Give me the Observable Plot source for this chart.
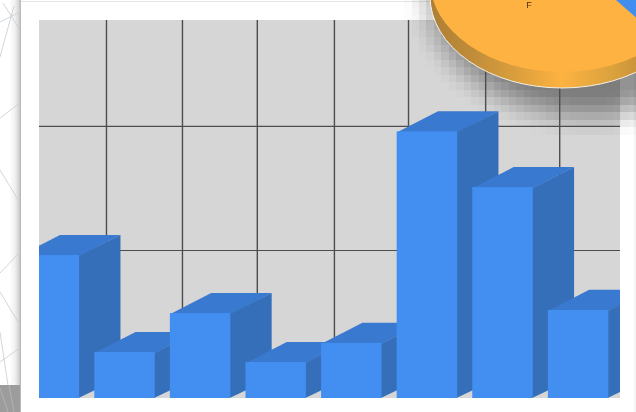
<!DOCTYPE html>
<html>
<head>
<meta charset="utf-8">
<script src="https://cdn.jsdelivr.net/npm/d3@7"></script>
<script src="https://cdn.jsdelivr.net/npm/@observablehq/plot@0.6"></script>
<style>
html,body{margin:0;padding:0;background:#fff;overflow:hidden}
#stage{position:relative;width:636px;height:412px;overflow:hidden;filter:blur(.35px);font-family:"Liberation Sans",Arial,sans-serif}
#stage>*{position:absolute;left:0;top:0}
#strip{width:21px;height:412px;background:linear-gradient(to right,#fff 0,#fff 45%,#f1f1f1 70%,#d8d8d8 88%,#b9b9b9 97%,#c4c4c4 100%)}
#card{left:21px!important;top:2px!important;width:615px;height:410px;background:#fff;box-shadow:0 -1px 0 #e6e6e6}
#edge{left:634px!important;top:0;width:2px;height:412px;background:#f4f4f4}
#wall{left:39px!important;top:20px!important;width:581px;height:378px;background:#d6d6d6}
canvas{width:636px;height:412px;image-rendering:pixelated}
</style>
</head>
<body>
<div id="stage">
  <div id="strip"></div>
  <svg id="lines" width="636" height="412">
    <g stroke="#c9cfd2" stroke-width="1" fill="none" opacity=".85">
      <path d="M0 22L20 12M3 3L20 30M0 57L14 6M0 118L20 103M0 170L20 203M0 273L20 252M0 292L20 325M0 362L20 348M0 332L8 385"/>
    </g>
    <rect x="0" y="385" width="20" height="27" fill="#9c9c9c"/>
    <path d="M0 388L8 412M9 385L14 412" stroke="#b2b2b2" fill="none"/>
  </svg>
  <div id="card"></div>
  <div id="edge"></div>
  <div id="wall"></div>
  <canvas id="shadow" width="85" height="55"></canvas>
  <div id="chart"></div>
  <svg id="pie" width="636" height="412">
    <defs>
      <linearGradient id="rim" gradientUnits="userSpaceOnUse" x1="429" x2="695" y1="0" y2="0">
        <stop offset="0" stop-color="#ad7e33"/>
        <stop offset=".14" stop-color="#bd8a3a"/>
        <stop offset=".32" stop-color="#d99e3c"/>
        <stop offset=".5" stop-color="#fdb241"/>
        <stop offset=".68" stop-color="#dca33e"/>
        <stop offset=".82" stop-color="#c58e39"/>
        <stop offset="1" stop-color="#ad7e33"/>
      </linearGradient>
      <clipPath id="top"><ellipse cx="562" cy="-20" rx="133" ry="92"/></clipPath>
    </defs>
    <ellipse cx="562" cy="-4" rx="132" ry="92" fill="url(#rim)" stroke="#f4efe6" stroke-width="1"/>
    <rect x="430" y="-20" width="264" height="16" fill="url(#rim)"/>
    <ellipse cx="562" cy="-20" rx="132" ry="92" fill="#fdb241"/>
    <path d="M616 0L640 21L640 0Z" fill="#418df0" clip-path="url(#top)"/>
    <text x="529" y="8" font-size="9" text-anchor="middle" fill="#4a330c">F</text>
  </svg>
</div>
<script>
// Bar heights and grid positions
const categories = [0, 1, 2, 3, 4, 5, 6, 7];
const values = [11.53, 3.71, 6.85, 2.9, 4.44, 21.5, 17.0, 7.1];
const gridXValues = [0.755, 1.76, 2.75, 3.77, 4.75, 5.77, 6.75];
const gridYValues = [11.94, 21.94];
const frontColor = "#428ef1";
const sideColor = "#356fb9";
const topColor = "#3a79d0";

const halfWidth = 0.4;
const depthX = 0.54;
const depthY = 1.66;
const overlap = 0.03;

const rows = categories.map((c, i) => ({c, v: values[i]}));
const chart = d3.select("#chart");
const marks = [
  Plot.ruleX(gridXValues, {stroke: "#4d4d4d", strokeWidth: 1.4, clip: true}),
  Plot.ruleY(gridYValues, {stroke: "#4d4d4d", strokeWidth: 1.1, clip: true})
];
for (const r of rows) {
  const L = r.c - halfWidth, R = r.c + halfWidth;
  marks.push(
    Plot.line(
      [[L, r.v - overlap], [R, r.v - overlap], [R + depthX, r.v + depthY], [L + depthX, r.v + depthY]],
      {fill: topColor, stroke: "none", clip: true}
    ),
    Plot.line(
      [[R - overlap, 0], [R - overlap, r.v], [R, r.v], [R + depthX, r.v + depthY], [R + depthX, depthY]],
      {fill: sideColor, stroke: "none", clip: true}
    ),
    Plot.rect([r], {x1: () => L, x2: () => R, y1: () => 0, y2: "v", fill: frontColor, clip: true})
  );
}
const plot = Plot.plot({
  width: 636,
  height: 412,
  marginLeft: 39,
  marginRight: 16,
  marginTop: 20,
  marginBottom: 14,
  style: {background: "transparent"},
  x: {domain: [-0.131, 7.554], axis: null},
  y: {domain: [0, 30.48], axis: null},
  marks
});
chart.node().append(plot);

// Soft blocky drop shadow from the overlapping pie, behind the bars
const ctx = document.getElementById("shadow").getContext("2d");
const cell = 636 / 85;
const img = ctx.createImageData(85, 55);
for (let j = 0; j < 55; j++) for (let i = 0; i < 85; i++) {
  const px = (i + .5) * cell, py = (j + .5) * cell;
  const t = Math.hypot((px - 590) / 190, (py + 10) / 150);
  const s = Math.max(0, Math.min(1, (1 - t) / .33));
  const a = s * s * (3 - 2 * s) * .46;
  const k = (j * 85 + i) * 4;
  img.data[k] = img.data[k + 1] = img.data[k + 2] = 20;
  img.data[k + 3] = a * 255;
}
ctx.putImageData(img, 0, 0);
</script>
</body>
</html>
